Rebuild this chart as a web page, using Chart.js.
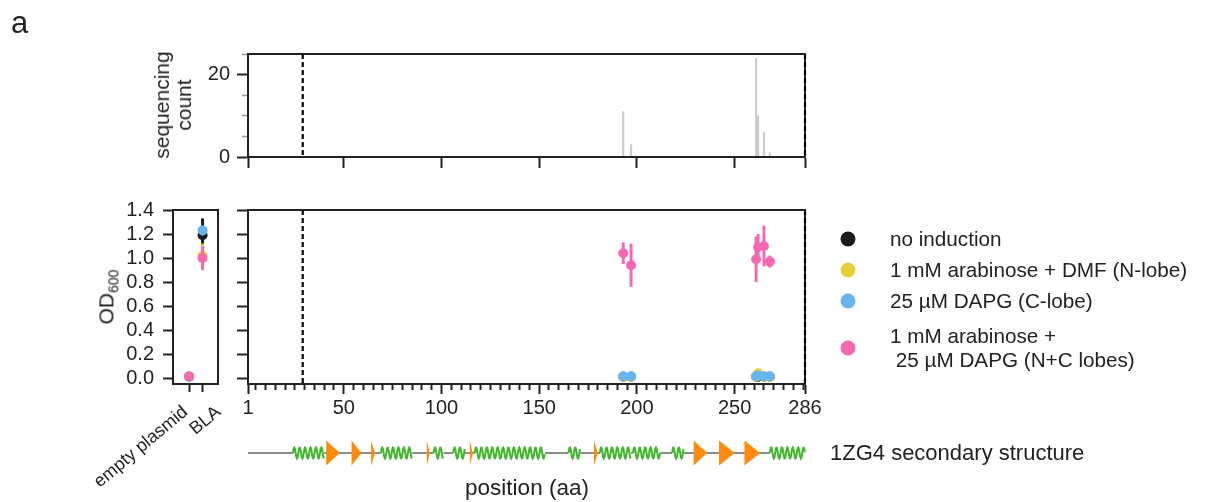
<!DOCTYPE html>
<html>
<head>
<meta charset="utf-8">
<script src="https://cdn.jsdelivr.net/npm/chart.js@4.4.1/dist/chart.umd.min.js"></script>
<style>
  body { margin: 0; background: #fff; font-family: 'Liberation Sans', Arial, Helvetica, sans-serif; color: #222; }
  #wrap { position: relative; width: 1226px; height: 502px; overflow: hidden; }
  canvas { position: absolute; left: 0; top: 0; }
  .t { position: absolute; white-space: pre; font-size: 21px; line-height: 1; }
  .rot { transform: translate(-50%, -50%) rotate(-90deg); text-align: center; }
  .diag { transform-origin: right top; transform: rotate(-40deg); font-size: 18px; }
  .dot { position: absolute; width: 15px; height: 15px; border-radius: 50%; transform: translate(-50%, -50%); }
</style>
</head>
<body>
<div id="wrap">
  <canvas id="seq" width="1226" height="502"></canvas>
  <canvas id="ctrl" width="1226" height="502"></canvas>
  <canvas id="main" width="1226" height="502"></canvas>
  <canvas id="topo" width="1226" height="502"></canvas>

  <div class="t" style="left:11px; top:7px; font-size:31px;">a</div>
  <div class="t rot" style="left:173px; top:105px; line-height:22px;">sequencing
count</div>
  <div class="t rot" style="left:108px; top:297px;">OD<sub style="font-size:14px;">600</sub></div>
  <div class="t" style="left:527px; top:488px; font-size:22.5px; transform:translate(-50%,-50%);">position (aa)</div>
  <div class="t" style="left:830px; top:453px; font-size:22px; transform:translateY(-50%);">1ZG4 secondary structure</div>
  <div id="ctrlLabels"></div>
  <div id="legend"></div>
</div>
<script>
// Данные: число прочтений по позициям
const seqPos = [193, 197, 261, 262, 265, 268];
const seqCount = [11, 3, 24, 10, 6, 1];

// OD600 для каждой позиции вставки
const odNone = [0.01, 0.01, 0.01, 0.01, 0.01, 0.01];
const odArab = [0.01, 0.01, 0.01, 0.04, 0.01, 0.01];
const odDapg = [0.015, 0.015, 0.015, 0.02, 0.015, 0.015];
const odBoth = [1.04, 0.94, 0.99, 1.09, 1.10, 0.97];
const errNone = [0.01, 0.01, 0.01, 0.01, 0.01, 0.01];
const errArab = [0.01, 0.01, 0.01, 0.01, 0.01, 0.01];
const errDapg = [0.01, 0.01, 0.01, 0.01, 0.01, 0.01];
const errBoth = [0.09, 0.18, 0.19, 0.11, 0.17, 0.05];

// Контроли
const controls = ['empty plasmid', 'BLA'];
const ctrlNone = [0.01, 1.19];
const ctrlArab = [0.01, 1.02];
const ctrlDapg = [0.01, 1.23];
const ctrlBoth = [0.015, 1.00];
const ctrlErrNone = [0.01, 0.14];
const ctrlErrArab = [0.01, 0.10];
const ctrlErrDapg = [0.01, 0.04];
const ctrlErrBoth = [0.01, 0.10];

const conditions = ['no induction', '1 mM arabinose + DMF (N-lobe)', '25 µM DAPG (C-lobe)', '1 mM arabinose +\n 25 µM DAPG (N+C lobes)'];
const colors = ['#1c1c1c', '#e6cf3a', '#66b5f0', '#f768b4'];

// Подписи осей
const xMajorTicks = [1, 50, 100, 150, 200, 250, 286];
const xMinorStep = 5;
const countMajorTicks = [0, 20];
const domainBounds = [29, 286];

// Вторичная структура 1ZG4
const helixStart = [24, 69, 96, 106, 117, 165, 181, 198, 218, 268];
const helixEnd = [40, 85, 101, 112, 153, 171, 197, 212, 224, 286];
const strandStart = [41, 54, 64, 92.5, 114.5, 178, 229, 242, 255];
const strandEnd = [48, 59, 66, 94, 116, 180, 236, 250, 263];

const INK = '#222';
Chart.defaults.font.family = "'Liberation Sans', Arial, Helvetica, sans-serif";
Chart.defaults.color = INK;
Chart.defaults.animation = false;
Chart.defaults.responsive = false;
Chart.defaults.devicePixelRatio = 1;
Chart.defaults.plugins.legend.display = false;
Chart.defaults.plugins.tooltip.enabled = false;

// фиксированный размер оси, чтобы область графика задавалась через padding
const fitTo = size => s => { if (s.isHorizontal()) s.height = size; else s.width = size; };

function merge(a, b) {
  Object.keys(b).forEach(k => {
    if (b[k] && typeof b[k] === 'object' && !Array.isArray(b[k]) && a[k] && typeof a[k] === 'object') merge(a[k], b[k]);
    else a[k] = b[k];
  });
  return a;
}

function makeAxis(pos, size, tickLen, labels, extra) {
  const ax = {
    type: 'linear', position: pos, afterFit: fitTo(size), offset: false,
    grid: { drawOnChartArea: false, offset: false, tickLength: tickLen, tickWidth: 2, tickColor: INK },
    border: { display: true, width: 2, color: INK },
    ticks: { display: labels, autoSkip: false, font: { size: 20 }, color: INK, padding: 3, maxRotation: 0, minRotation: 0 }
  };
  return merge(ax, extra || {});
}
const majorX = s => { s.ticks = xMajorTicks.map(v => ({ value: v })); };
// основные + промежуточные деления каждые 5 остатков
const majorMinorX = s => {
  const vals = xMajorTicks.slice();
  for (let v = xMinorStep; v < s.max; v += xMinorStep) if (!vals.includes(v)) vals.push(v);
  s.ticks = vals.sort((a, b) => a - b).map(v => ({ value: v }));
};
const isMajorX = v => xMajorTicks.includes(v);

// Рамка и пунктирные линии
const frame = {
  id: 'frame',
  afterDraw(chart, args, opts) {
    const { ctx, chartArea: a, scales } = chart;
    ctx.save();
    ctx.strokeStyle = INK;
    ctx.lineWidth = 2;
    ctx.strokeRect(a.left, a.top, a.right - a.left, a.bottom - a.top);
    if (opts.dashed) {
      ctx.setLineDash([5, 3]);
      ctx.lineWidth = 2.2;
      ctx.strokeStyle = '#000';
      opts.dashed.forEach(v => {
        const x = scales.x.getPixelForValue(v);
        ctx.beginPath();
        ctx.moveTo(x, a.top);
        ctx.lineTo(x, a.bottom);
        ctx.stroke();
      });
    }
    ctx.restore();
  }
};

// Планки погрешностей
const errorBars = {
  id: 'errorBars',
  beforeDatasetDraw(chart, args) {
    const ds = chart.data.datasets[args.index];
    if (!ds.errors) return;
    const { ctx, scales } = chart;
    ctx.save();
    ctx.strokeStyle = ds.backgroundColor;
    ctx.lineWidth = 3;
    args.meta.data.forEach((pt, i) => {
      const v = ds.data[i].y, e = ds.errors[i];
      ctx.beginPath();
      ctx.moveTo(pt.x, scales.y.getPixelForValue(v - e));
      ctx.lineTo(pt.x, scales.y.getPixelForValue(v + e));
      ctx.stroke();
    });
    ctx.restore();
  }
};

// Спирали и тяжи
const topology = {
  id: 'topology',
  afterDatasetsDraw(chart) {
    const { ctx, scales: { x, y } } = chart;
    const cy = y.getPixelForValue(0);
    ctx.save();
    helixStart.forEach((s, i) => {
      const x0 = x.getPixelForValue(s), x1 = x.getPixelForValue(helixEnd[i]);
      ctx.fillStyle = '#fff';
      ctx.fillRect(x0, cy - 2, x1 - x0, 4);
      ctx.beginPath();
      for (let px = x0; px <= x1; px += 0.5) {
        const py = cy - 5.5 * Math.sin(2 * Math.PI * (px - x0) / 5.4);
        if (px === x0) ctx.moveTo(px, py); else ctx.lineTo(px, py);
      }
      ctx.strokeStyle = '#3fb72a';
      ctx.lineWidth = 2;
      ctx.stroke();
    });
    strandStart.forEach((s, i) => {
      const x0 = x.getPixelForValue(s), x1 = x.getPixelForValue(strandEnd[i]);
      ctx.beginPath();
      ctx.moveTo(x0, cy - 12.5);
      ctx.lineTo(x1, cy);
      ctx.lineTo(x0, cy + 12.5);
      ctx.closePath();
      ctx.fillStyle = '#ff8a0c';
      ctx.fill();
    });
    ctx.restore();
  }
};

// Верхняя панель: число прочтений
new Chart(document.getElementById('seq'), {
  type: 'bar',
  data: {
    datasets: [{
      data: seqPos.map((x, i) => ({ x, y: seqCount[i] })),
      backgroundColor: '#cbcbcb',
      barThickness: 1.5
    }]
  },
  options: {
    layout: { padding: { left: 188, right: 421, top: 54, bottom: 330 } },
    scales: {
      x: makeAxis('bottom', 15, 11, false, { min: 1, max: 286, afterBuildTicks: majorX }),
      y: makeAxis('left', 60, 11, true, {
        min: 0, max: 25,
        ticks: { stepSize: 5, includeBounds: false, padding: 7, callback: v => countMajorTicks.includes(v) ? String(v) : '' },
        grid: {
          tickColor: c => countMajorTicks.includes(c.tick.value) ? INK : '#999',
          tickWidth: c => countMajorTicks.includes(c.tick.value) ? 2 : 1.5,
          tickBorderDash: c => countMajorTicks.includes(c.tick.value) ? [] : [0, 5, 5, 100]
        }
      })
    },
    plugins: { frame: { dashed: domainBounds } }
  },
  plugins: [frame]
});

// Основная панель: OD600 по позициям
const mainSeries = [odNone, odArab, odDapg, odBoth];
const mainErr = [errNone, errArab, errDapg, errBoth];
new Chart(document.getElementById('main'), {
  type: 'scatter',
  data: {
    datasets: mainSeries.map((vals, k) => ({
      label: conditions[k],
      data: seqPos.map((x, i) => ({ x, y: vals[i] })),
      errors: mainErr[k],
      order: mainSeries.length - k,
      backgroundColor: colors[k],
      pointRadius: 5,
      pointBorderWidth: 0
    }))
  },
  options: {
    layout: { padding: { left: 248, right: 421, top: 210, bottom: 78 } },
    scales: {
      x: makeAxis('bottom', 40, 10, true, {
        min: 1, max: 286, afterBuildTicks: majorMinorX,
        ticks: { padding: 2, callback: v => isMajorX(v) ? String(v) : '' },
        grid: { tickBorderDash: c => isMajorX(c.tick.value) ? [] : [5, 100] }
      }),
      y: makeAxis('left', 0, 11, false, { min: -0.05, max: 1.4, ticks: { stepSize: 0.2, includeBounds: false } })
    },
    plugins: { frame: { dashed: domainBounds } }
  },
  plugins: [errorBars, frame]
});

// Левая панель: контроли
const ctrlSeries = [ctrlNone, ctrlArab, ctrlDapg, ctrlBoth];
const ctrlErr = [ctrlErrNone, ctrlErrArab, ctrlErrDapg, ctrlErrBoth];
const ctrlChart = new Chart(document.getElementById('ctrl'), {
  type: 'scatter',
  data: {
    datasets: ctrlSeries.map((vals, k) => ({
      data: controls.map((c, i) => ({ x: i, y: vals[i] })),
      errors: ctrlErr[k],
      order: ctrlSeries.length - k,
      backgroundColor: colors[k],
      pointRadius: 5,
      pointBorderWidth: 0
    }))
  },
  options: {
    layout: { padding: { left: 113, right: 1008, top: 210, bottom: 78 } },
    scales: {
      x: makeAxis('bottom', 40, 8, false, {
        min: -1.2, max: 2.15,
        afterBuildTicks: s => { s.ticks = controls.map((c, i) => ({ value: i })); }
      }),
      y: makeAxis('left', 60, 10, true, {
        min: -0.05, max: 1.4,
        ticks: { stepSize: 0.2, includeBounds: false, padding: 9, callback: v => Number(v).toFixed(1) }
      })
    },
    plugins: { frame: {} }
  },
  plugins: [errorBars, frame]
});

// Наклонные подписи контролей (смещение конца подписи от деления, как в оригинале)
const ctrlLabelShift = [-10, 9];
const ctrlBox = document.getElementById('ctrlLabels');
controls.forEach((name, i) => {
  const px = ctrlChart.scales.x.getPixelForValue(i) + ctrlLabelShift[i];
  const el = document.createElement('div');
  el.className = 't diag';
  el.style.right = (1226 - px) + 'px';
  el.style.top = (ctrlChart.chartArea.bottom + 18) + 'px';
  el.textContent = name;
  ctrlBox.appendChild(el);
});

// Трек вторичной структуры
new Chart(document.getElementById('topo'), {
  type: 'line',
  data: {
    datasets: [{
      data: [{ x: 1, y: 0 }, { x: 286, y: 0 }],
      borderColor: '#8c8c8c',
      borderWidth: 2,
      pointRadius: 0
    }]
  },
  options: {
    layout: { padding: { left: 248, right: 421, top: 430, bottom: 26 } },
    scales: {
      x: { type: 'linear', min: 1, max: 286, display: false },
      y: { type: 'linear', min: -1, max: 1, display: false }
    }
  },
  plugins: [topology]
});

// Легенда
const legendY = [239, 270, 301, 348];
const legend = document.getElementById('legend');
conditions.forEach((name, k) => {
  const dot = document.createElement('div');
  dot.className = 'dot';
  dot.style.left = '848px';
  dot.style.top = legendY[k] + 'px';
  dot.style.background = colors[k];
  legend.appendChild(dot);
  const txt = document.createElement('div');
  txt.className = 't';
  txt.style.left = '890px';
  txt.style.top = legendY[k] + 'px';
  txt.style.fontSize = '20.7px';
  txt.style.lineHeight = '24px';
  txt.style.transform = 'translateY(-50%)';
  txt.textContent = name;
  legend.appendChild(txt);
});
</script>
</body>
</html>
